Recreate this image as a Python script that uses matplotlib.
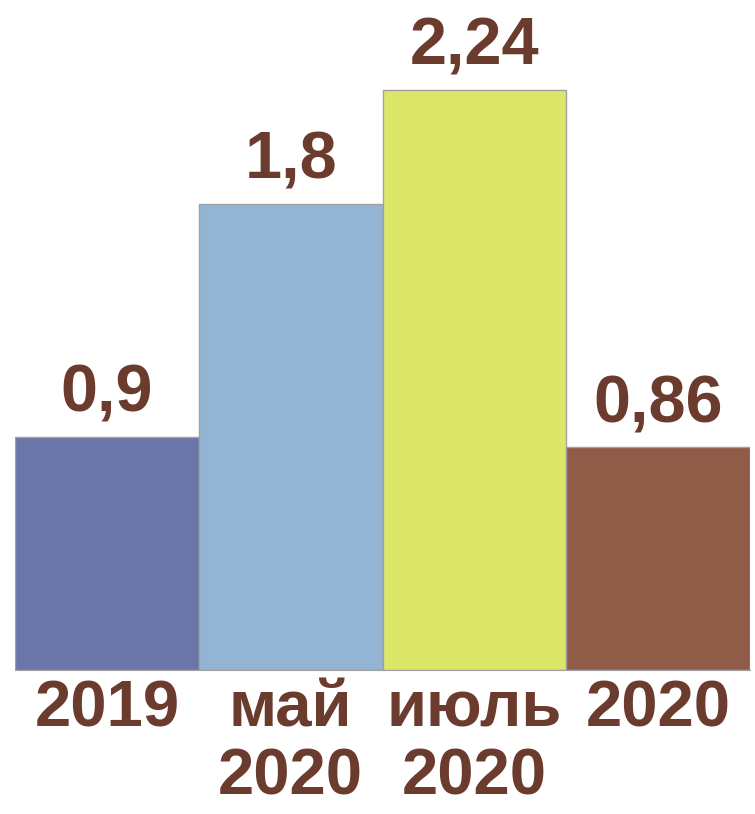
import matplotlib
matplotlib.use('Agg')
import matplotlib.pyplot as plt

categories = ['2019', 'май\n2020', 'июль\n2020', '2020']
values = [0.9, 1.8, 2.24, 0.86]
labels = ['0,9', '1,8', '2,24', '0,86']
colors = ['#6A76AA', '#93B5D3', '#DCE76A', '#905C48']

text_color = '#6B3B2E'
plt.rcParams['font.family'] = ['Liberation Sans', 'DejaVu Sans']

fig = plt.figure(figsize=(7.55, 8.14), dpi=100)
ax = fig.add_axes([15 / 755, 1 - 670 / 814, 735 / 755, 670 / 814])

x = range(len(values))
bars = ax.bar(x, values, width=1.0, color=colors, edgecolor='#a0a0a0', linewidth=1)

for bar, lab in zip(bars, labels):
    ax.annotate(
        lab,
        (bar.get_x() + bar.get_width() / 2, bar.get_height()),
        xytext=(0, 8), textcoords='offset points',
        ha='center', va='bottom',
        fontsize=48, fontweight='bold', color=text_color,
    )

ax.set_xlim(-0.5, len(values) - 0.5)
ax.set_ylim(0, 2.587)
ax.set_xticks(list(x))
ax.set_xticklabels(categories, fontsize=47, fontweight='bold', color=text_color, linespacing=1.17)
ax.tick_params(axis='x', length=0, pad=7)
ax.set_yticks([])
for side in ['top', 'right', 'left']:
    ax.spines[side].set_visible(False)
ax.spines['bottom'].set_color('#a0a0a0')

fig.savefig('out.png', dpi=100)
